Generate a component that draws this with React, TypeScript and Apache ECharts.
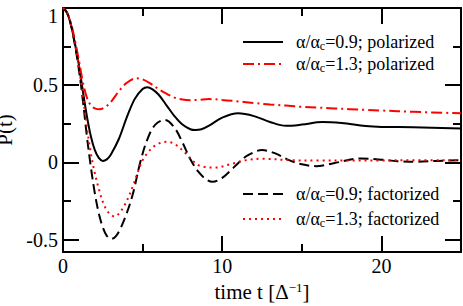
import React, { useEffect, useRef } from "react";
import * as echarts from "echarts";

// ---- data ----
const X_MIN = 0;
const X_MAX = 25;
const Y_MIN = -0.58;
const Y_MAX = 1;
const X_MAJOR = [0, 10, 20];
const X_MINOR = [5, 15, 25];
const Y_MAJOR = [-0.5, 0, 0.5, 1];
const Y_MINOR = [-0.25, 0.25, 0.75];

const polar09: number[][] = [
  [0, 1], [0.25, 0.97], [0.5, 0.89], [0.75, 0.77], [1, 0.63], [1.25, 0.46], [1.5, 0.3],
  [1.75, 0.17], [2, 0.08], [2.25, 0.03], [2.5, 0.01], [2.75, 0.02], [3, 0.05], [3.5, 0.15],
  [4, 0.29], [4.5, 0.41], [5, 0.475], [5.3, 0.487], [5.6, 0.475], [6, 0.44], [6.5, 0.37],
  [7, 0.3], [7.5, 0.245], [8, 0.215], [8.3, 0.21], [8.7, 0.215], [9.2, 0.24], [10, 0.29],
  [11, 0.318], [12, 0.3], [13, 0.262], [14, 0.237], [15, 0.245], [16.3, 0.262], [17.5, 0.255],
  [19, 0.236], [20, 0.23], [22, 0.228], [25, 0.22],
];
const polar13: number[][] = [
  [0, 1], [0.25, 0.97], [0.5, 0.9], [0.75, 0.79], [1, 0.66], [1.25, 0.52], [1.5, 0.42],
  [1.75, 0.37], [2, 0.35], [2.3, 0.344], [2.6, 0.355], [3, 0.39], [3.5, 0.46], [4, 0.515],
  [4.6, 0.545], [5, 0.538], [5.5, 0.51], [6, 0.475], [6.5, 0.445], [7, 0.42], [7.5, 0.407],
  [8, 0.403], [8.5, 0.405], [9.2, 0.41], [10, 0.405], [11, 0.395], [12, 0.385], [13, 0.375],
  [14, 0.368], [15, 0.36], [16, 0.355], [17, 0.35], [18, 0.345], [19, 0.34], [20, 0.336],
  [22, 0.328], [25, 0.318],
];
const fact09: number[][] = [
  [0, 1], [0.25, 0.97], [0.5, 0.89], [0.75, 0.76], [1, 0.6], [1.25, 0.4], [1.5, 0.17],
  [1.75, -0.03], [2, -0.2], [2.25, -0.33], [2.5, -0.42], [2.75, -0.475], [3.05, -0.495],
  [3.3, -0.48], [3.6, -0.43], [4, -0.33], [4.4, -0.2], [4.85, 0], [5.3, 0.15], [5.8, 0.245],
  [6.4, 0.275], [7, 0.225], [7.5, 0.13], [8, 0.02], [8.5, -0.06], [9, -0.11], [9.4, -0.125],
  [10, -0.1], [10.5, -0.055], [11, -0.005], [11.6, 0.045], [12.5, 0.08], [13.3, 0.06],
  [14.2, 0.015], [15, -0.012], [15.9, -0.024], [17, -0.005], [18.7, 0.026], [20, 0.018],
  [21, 0.008], [22.2, 0.004], [23.5, 0.01], [25, 0.015],
];
const fact13: number[][] = [
  [0, 1], [0.25, 0.97], [0.5, 0.89], [0.75, 0.77], [1, 0.62], [1.25, 0.43], [1.5, 0.23],
  [1.75, 0.06], [2, -0.07], [2.3, -0.19], [2.6, -0.28], [2.9, -0.33], [3.25, -0.35],
  [3.6, -0.32], [4, -0.25], [4.4, -0.15], [4.93, 0], [5.3, 0.06], [5.8, 0.11], [6.5, 0.134],
  [7, 0.12], [7.7, 0.06], [8.1, 0.015], [8.6, -0.022], [9.6, -0.033], [10.5, -0.012],
  [11.5, 0.015], [12.5, 0.024], [14.2, 0.015], [16, 0.012], [18, 0.012], [20, 0.013],
  [22, 0.014], [25, 0.015],
];

const SERIES_NAMES = ["p09", "p13", "f09", "f13"];
const LEGEND_TEXT: Record<string, string> = {
  p09: "{a|α/α}{s|c}{a|=0.9; polarized}",
  p13: "{a|α/α}{s|c}{a|=1.3; polarized}",
  f09: "{a|α/α}{s|c}{a|=0.9; factorized}",
  f13: "{a|α/α}{s|c}{a|=1.3; factorized}",
};
const X_NAME = "{a|time t [Δ}{b|−1}{a|]}";
const Y_NAME = "P(t)";

const FONT = "Liberation Serif";

function makeX(position: string, values: number[], len: number, main: boolean, showLine: boolean) {
  return {
    type: "value",
    min: X_MIN,
    max: X_MAX,
    position,
    axisLine: { show: showLine, onZero: false, lineStyle: { color: "#000", width: 2 } },
    axisTick: { show: true, inside: true, length: len, customValues: values, lineStyle: { color: "#000", width: 2 } },
    axisLabel: main
      ? { show: true, customValues: values, margin: 4, color: "#000", fontFamily: FONT, fontSize: 20 }
      : { show: false },
    splitLine: { show: false },
    ...(main
      ? {
          name: X_NAME,
          nameLocation: "middle",
          nameGap: 24,
          nameTextStyle: {
            fontFamily: FONT,
            rich: {
              a: { fontFamily: FONT, fontSize: 21, color: "#000", lineHeight: 22 },
              b: { fontFamily: FONT, fontSize: 13, color: "#000", verticalAlign: "top", lineHeight: 13 },
            },
          },
        }
      : {}),
  };
}

function makeY(position: string, values: number[], len: number, main: boolean, showLine: boolean) {
  return {
    type: "value",
    min: Y_MIN,
    max: Y_MAX,
    position,
    axisLine: { show: showLine, onZero: false, lineStyle: { color: "#000", width: 2 } },
    axisTick: { show: true, inside: true, length: len, customValues: values, lineStyle: { color: "#000", width: 2 } },
    axisLabel: main
      ? {
          show: true,
          customValues: values,
          margin: 5,
          color: "#000",
          fontFamily: FONT,
          fontSize: 20,
          formatter: (v: number) => (v === Y_MAX ? "{t|" + v + "}" : String(v)),
          rich: { t: { fontFamily: FONT, fontSize: 20, color: "#000", padding: [16, 0, 0, 0] } },
        }
      : { show: false },
    splitLine: { show: false },
    ...(main
      ? {
          name: Y_NAME,
          nameLocation: "middle",
          nameGap: 34,
          nameTextStyle: { fontFamily: FONT, fontSize: 21, lineHeight: 21, color: "#000" },
        }
      : {}),
  };
}

function makeLegend(name: string, top: number) {
  return {
    data: [name],
    left: 242,
    top,
    padding: 0,
    itemWidth: 40,
    itemHeight: 14,
    selectedMode: false,
    itemStyle: { color: "rgba(0,0,0,0)", opacity: 0, borderWidth: 0 },
    lineStyle: { width: 2 },
    formatter: (n: string) => LEGEND_TEXT[n],
    textStyle: {
      fontFamily: FONT,
      padding: [0, 0, 0, 8],
      rich: {
        a: { fontFamily: FONT, fontSize: 18, color: "#000", lineHeight: 20 },
        s: { fontFamily: FONT, fontSize: 12, color: "#000", verticalAlign: "bottom", lineHeight: 11 },
      },
    },
  };
}

export default function App() {
  const ref = useRef<HTMLDivElement>(null);
  useEffect(() => {
    if (!ref.current) return;
    const chart = echarts.init(ref.current, undefined, { renderer: "svg" });
    const lineSeries = (name: string, data: number[][], color: string, type: any) => ({
      name,
      type: "line",
      data,
      xAxisIndex: 0,
      yAxisIndex: 0,
      showSymbol: false,
      symbol: "none",
      smooth: 0.35,
      lineStyle: { color, width: 2, type },
      itemStyle: { color },
      z: 2,
    });
    chart.setOption({
      animation: false,
      backgroundColor: "#fff",
      textStyle: { fontFamily: FONT },
      grid: { left: 63, right: 2, top: 8, bottom: 54, containLabel: false, outerBoundsMode: "none" },
      xAxis: [
        makeX("bottom", X_MAJOR, 16, true, true),
        makeX("bottom", X_MINOR, 8, false, false),
        makeX("top", X_MAJOR, 16, false, true),
        makeX("top", X_MINOR, 8, false, false),
      ],
      yAxis: [
        makeY("left", Y_MAJOR, 16, true, true),
        makeY("left", Y_MINOR, 8, false, false),
        makeY("right", Y_MAJOR, 16, false, true),
        makeY("right", Y_MINOR, 8, false, false),
      ],
      legend: [
        makeLegend(SERIES_NAMES[0], 33),
        makeLegend(SERIES_NAMES[1], 55),
        makeLegend(SERIES_NAMES[2], 185),
        makeLegend(SERIES_NAMES[3], 210),
      ],
      series: [
        lineSeries(SERIES_NAMES[0], polar09, "#000000", "solid"),
        lineSeries(SERIES_NAMES[1], polar13, "#ff0000", [11, 4, 2, 4]),
        lineSeries(SERIES_NAMES[2], fact09, "#000000", [10, 5]),
        lineSeries(SERIES_NAMES[3], fact13, "#ff0000", [2, 4]),
      ],
    });
    return () => chart.dispose();
  }, []);
  return (
    <div
      ref={ref}
      style={{ position: "absolute", left: 0, top: 0, width: 463, height: 306 }}
    />
  );
}
